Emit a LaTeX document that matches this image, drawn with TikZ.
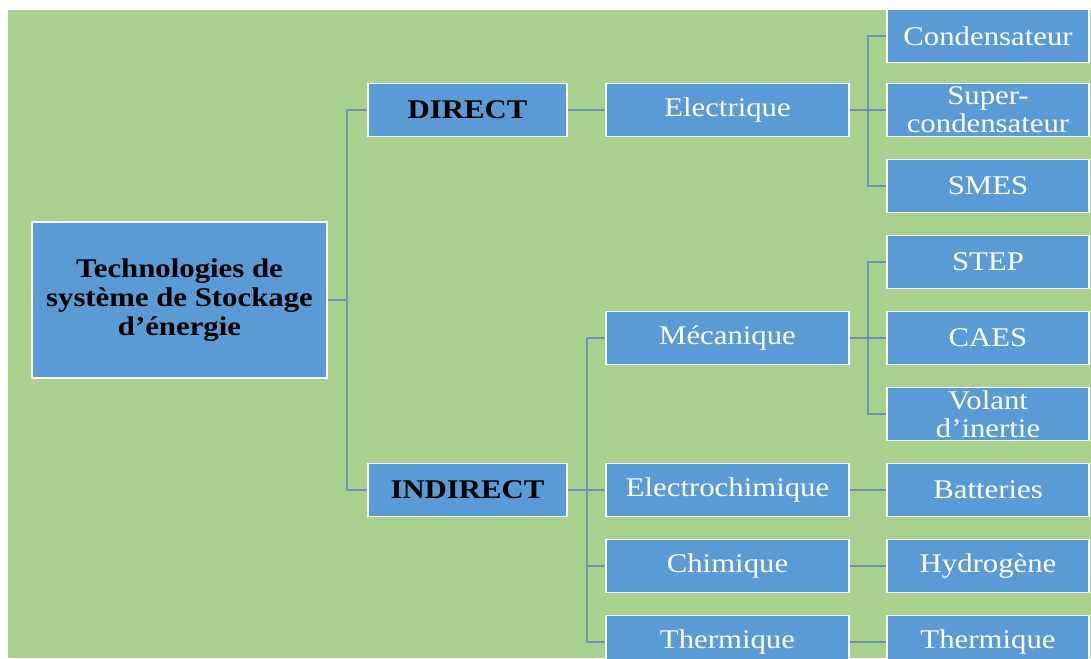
\documentclass[tikz,border=0pt]{standalone}
\usepackage{fontspec}
\setmainfont{Liberation Serif}[FakeStretch=1.14]
\usepackage{tikz}

\definecolor{vertFond}{HTML}{A9D18E}
\definecolor{bleuBoite}{HTML}{5B9BD5}
\definecolor{bleuLien}{HTML}{6A93B6}

\begin{document}
\begin{tikzpicture}[x=1pt,y=-1pt]
    		\tikzstyle{boite}=[draw=white, line width=1.4pt, fill=bleuBoite, inner sep=0pt, align=center, font=\fontsize{27}{28}\selectfont]
    		\tikzstyle{boiteNoire}=[boite, text=black, font=\fontsize{27}{29}\selectfont\bfseries]
    		\tikzstyle{boiteBlanche}=[boite, text=white]
    		\tikzstyle{niveauDeux}=[boiteBlanche, minimum width=243, minimum height=53]
    		\tikzstyle{niveauTrois}=[boiteBlanche, minimum width=202, minimum height=53]
    		\tikzstyle{lien}=[draw=bleuLien, line width=1.8pt]

    		\useasboundingbox (0,0) rectangle (1091,658);
    		\begin{scope}
    		\clip (8,10) rectangle (1091,658);
    		\fill [vertFond] (8,10) rectangle (1091,658);

    		% root and first level
    		\node [boiteNoire, minimum width=295, minimum height=156] (racine) at (179.5,300) {Technologies de\\système de Stockage\\d’énergie};
    		\node [boiteNoire, minimum width=199, minimum height=53] (direct) at (467.5,110) {DIRECT};
    		\node [boiteNoire, minimum width=199, minimum height=53] (indirect) at (467.5,490) {INDIRECT};

    		% second level
    		\node [niveauDeux] (electrique) at (727.5,110) {Electrique};
    		\node [niveauDeux] (mecanique) at (727.5,338) {Mécanique};
    		\node [niveauDeux] (electrochim) at (727.5,490) {Electrochimique};
    		\node [niveauDeux] (chimique) at (727.5,566) {Chimique};
    		\node [niveauDeux] (thermique) at (727.5,642) {Thermique};

    		% third level
    		\node [niveauTrois] (condo) at (988,36) {Condensateur};
    		\node [niveauTrois] (supercondo) at (988,110) {Super-\\condensateur};
    		\node [niveauTrois] (smes) at (988,186) {SMES};
    		\node [niveauTrois] (steph) at (988,262) {STEP};
    		\node [niveauTrois] (caes) at (988,338) {CAES};
    		\node [niveauTrois] (volant) at (988,414) {Volant\\d’inertie};
    		\node [niveauTrois] (batteries) at (988,490) {Batteries};
    		\node [niveauTrois] (hydrogene) at (988,566) {Hydrogène};
    		\node [niveauTrois] (thermiqueB) at (988,642) {Thermique};

    		% connectors
    		\coordinate (busRacine) at (347,300);
    		\coordinate (busElec) at (868,110);
    		\coordinate (busIndirect) at (587,490);
    		\coordinate (busMeca) at (868,338);

    		\draw [lien] (racine.east) -- (busRacine) |- (direct.west);
    		\draw [lien] (busRacine) |- (indirect.west);
    		\draw [lien] (direct.east) -- (electrique.west);

    		\draw [lien] (electrique.east) -- (busElec) -- (supercondo.west);
    		\draw [lien] (busElec) |- (condo.west);
    		\draw [lien] (busElec) |- (smes.west);

    		\draw [lien] (indirect.east) -- (busIndirect) -- (electrochim.west);
    		\draw [lien] (busIndirect) |- (mecanique.west);
    		\draw [lien] (busIndirect) |- (chimique.west);
    		\draw [lien] (busIndirect) |- (thermique.west);

    		\draw [lien] (mecanique.east) -- (busMeca) -- (caes.west);
    		\draw [lien] (busMeca) |- (steph.west);
    		\draw [lien] (busMeca) |- (volant.west);

    		\draw [lien] (electrochim.east) -- (batteries.west);
    		\draw [lien] (chimique.east) -- (hydrogene.west);
    		\draw [lien] (thermique.east) -- (thermiqueB.west);
    		\end{scope}

		\end{tikzpicture}
\end{document}
